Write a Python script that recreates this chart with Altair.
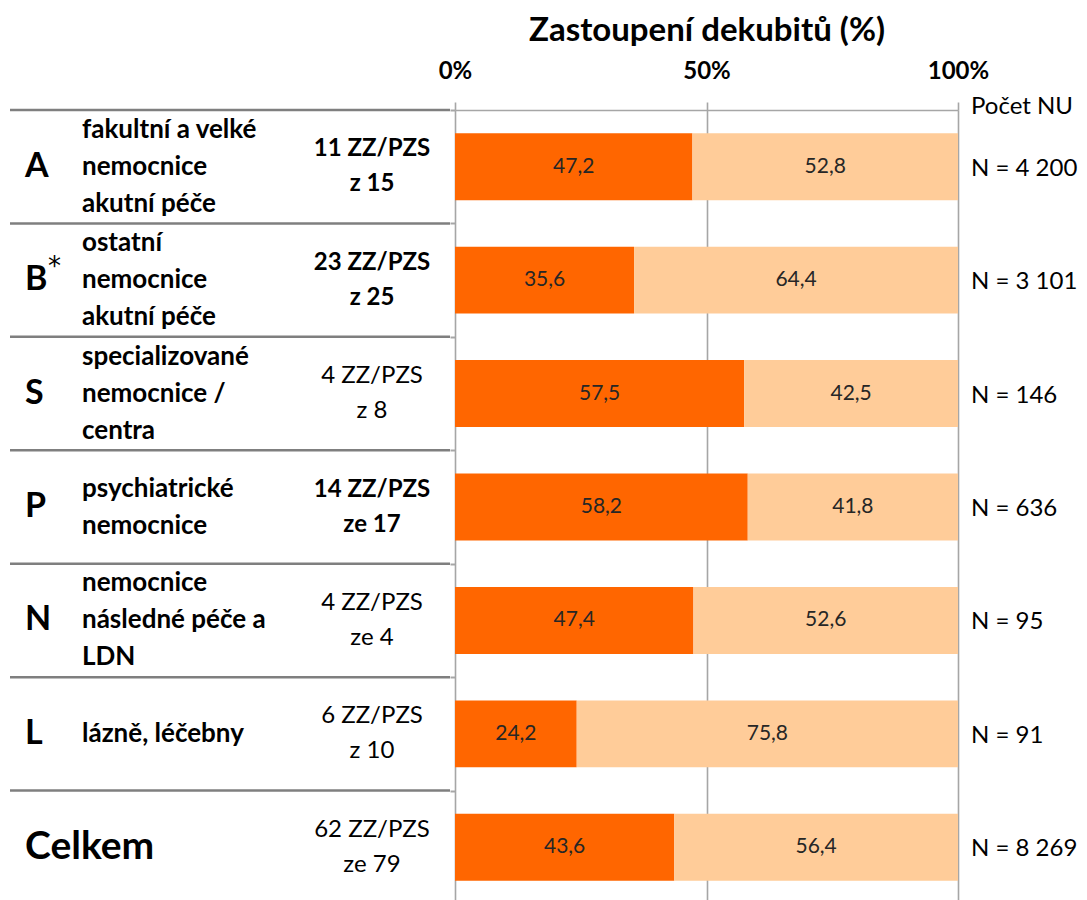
import altair as alt
import pandas as pd

# ---------------- data ----------------
groups = ["A", "B", "S", "P", "N", "L", "Celkem"]
footnote_marks = ["", "*", "", "", "", "", ""]
descriptions = [
    "fakultní a velké\nnemocnice\nakutní péče",
    "ostatní\nnemocnice\nakutní péče",
    "specializované\nnemocnice /\ncentra",
    "psychiatrické\nnemocnice",
    "nemocnice\nnásledné péče a\nLDN",
    "lázně, léčebny",
    "",
]
facilities = [
    "11 ZZ/PZS\nz 15",
    "23 ZZ/PZS\nz 25",
    "4 ZZ/PZS\nz 8",
    "14 ZZ/PZS\nze 17",
    "4 ZZ/PZS\nze 4",
    "6 ZZ/PZS\nz 10",
    "62 ZZ/PZS\nze 79",
]
facilities_highlight = [True, True, False, True, False, False, False]
share_dark = [47.2, 35.6, 57.5, 58.2, 47.4, 24.2, 43.6]
share_light = [52.8, 64.4, 42.5, 41.8, 52.6, 75.8, 56.4]
counts = ["N = 4 200", "N = 3 101", "N = 146", "N = 636", "N = 95", "N = 91", "N = 8 269"]
count_header = "Počet NU"
x_title = "Zastoupení dekubitů (%)"
segments = ["dark", "light"]

# ---------------- tables ----------------
rows = pd.DataFrame({
    "group": groups,
    "mark": footnote_marks,
    "desc": descriptions,
    "fac": facilities,
    "hl": facilities_highlight,
    "count": counts,
})
rows["dlines"] = rows["desc"].str.count("\n") + 1
rows["flines"] = rows["fac"].str.count("\n") + 1

bar_rows = []
for g, d, l in zip(groups, share_dark, share_light):
    bar_rows.append({"group": g, "seg": "dark", "start": 0.0, "end": d, "mid": d / 2,
                     "label": f"{d:.1f}".replace(".", ",")})
    bar_rows.append({"group": g, "seg": "light", "start": d, "end": d + l, "mid": d + l / 2,
                     "label": f"{l:.1f}".replace(".", ",")})
bars_df = pd.DataFrame(bar_rows)

FONT = "Lato"
GRID = "#A6A6A6"
W, H = 503, 794

y_axis = alt.Axis(labels=False, domain=False, ticks=True, tickBand="extent",
                  tickSize=5, tickColor=GRID, tickWidth=2, grid=False, title=None)
y_scale = alt.Scale(domain=groups, paddingInner=0, paddingOuter=0)


def yenc(**kw):
    return alt.Y("group:N", sort=groups, scale=y_scale, axis=y_axis, title=None, **kw)


x_axis = alt.Axis(orient="top", values=[0, 50, 100], labelExpr="datum.value + '%'",
                  labelFlush=False, grid=True, gridColor=GRID, gridWidth=1.6,
                  domainColor=GRID, domainWidth=1.6, tickColor=GRID, tickWidth=1.6,
                  tickSize=8, labelFont=FONT, labelFontSize=24, labelFontWeight="bold",
                  labelColor="#000000", labelPadding=19, title=x_title, titleFont=FONT,
                  titleFontSize=33, titleFontWeight="bold", titleColor="#000000",
                  titlePadding=12)
x_scale = alt.Scale(domain=[0, 100], nice=False)


def xenc(field):
    return alt.X(field, scale=x_scale, axis=x_axis, title=x_title)


bars = alt.Chart(bars_df).mark_bar(height={"band": 0.59}).encode(
    x=xenc("start:Q"),
    x2="end:Q",
    y=yenc(),
    color=alt.Color("seg:N", scale=alt.Scale(domain=segments, range=["#FF6600", "#FFCC99"]), legend=None),
)

bar_labels = alt.Chart(bars_df).mark_text(font=FONT, fontSize=21, color="#262626").encode(
    x=xenc("mid:Q"),
    y=yenc(),
    text="label:N",
)

base = alt.Chart(rows)

separators = base.mark_rule(color="#7F7F7F", strokeWidth=2.5).encode(
    y=yenc(bandPosition=0),
    x=alt.value(-445),
    x2=alt.value(-5),
)

letters = base.transform_filter(alt.datum.group != "Celkem").mark_text(
    font=FONT, fontSize=34, fontWeight="bold", align="left", baseline="middle", color="#000000"
).encode(x=alt.value(-430), y=yenc(), text="group:N")

total_letter = base.transform_filter(alt.datum.group == "Celkem").mark_text(
    font=FONT, fontSize=39, fontWeight="bold", align="left", baseline="middle", color="#000000"
).encode(x=alt.value(-430), y=yenc(), text="group:N")

asterisk = base.mark_text(
    font="DejaVu Sans", fontSize=26, align="left", baseline="middle", color="#000000", dy=-13
).encode(x=alt.value(-407), y=yenc(), text="mark:N")

DESC_LH = 37
FAC_LH = 35


def multiline(n, field, lines_field, lh, x, **style):
    return base.transform_filter(alt.datum[lines_field] == n).mark_text(
        font=FONT, baseline="middle", lineBreak="\n", lineHeight=lh, color="#000000",
        dy=-(n - 1) * lh / 2, **style
    ).encode(x=alt.value(x), y=yenc(), text=f"{field}:N")


desc_layers = [multiline(n, "desc", "dlines", DESC_LH, -373, fontSize=26, fontWeight="bold", align="left")
               for n in (1, 2, 3)]

fac_layers = []
for hl, weight in ((True, "bold"), (False, "normal")):
    for n in (1, 2):
        fac_layers.append(
            base.transform_filter((alt.datum.flines == n) & (alt.datum.hl == hl)).mark_text(
                font=FONT, fontSize=24, fontWeight=weight, align="center", baseline="middle",
                lineBreak="\n", lineHeight=FAC_LH, color="#000000", dy=-(n - 1) * FAC_LH / 2
            ).encode(x=alt.value(-83), y=yenc(), text="fac:N")
        )

count_txt = base.mark_text(
    font=FONT, fontSize=24, align="left", baseline="middle", color="#000000", dy=2
).encode(x=alt.value(516), y=yenc(), text="count:N")

header = alt.Chart(pd.DataFrame({"t": [count_header]})).mark_text(
    font=FONT, fontSize=24, align="left", baseline="middle", color="#000000"
).encode(x=alt.value(516), y=alt.value(-3), text="t:N")

chart = alt.layer(
    bars, bar_labels, separators, letters, total_letter, asterisk,
    *desc_layers, *fac_layers, count_txt, header
).properties(
    width=W, height=H,
    autosize=alt.AutoSizeParams(type="none"),
    padding={"left": 447, "top": 102, "right": 121, "bottom": 0},
).configure_view(stroke=None).configure(background="#FFFFFF")

chart.save("out.html", embed_options={"renderer": "svg", "actions": False})
